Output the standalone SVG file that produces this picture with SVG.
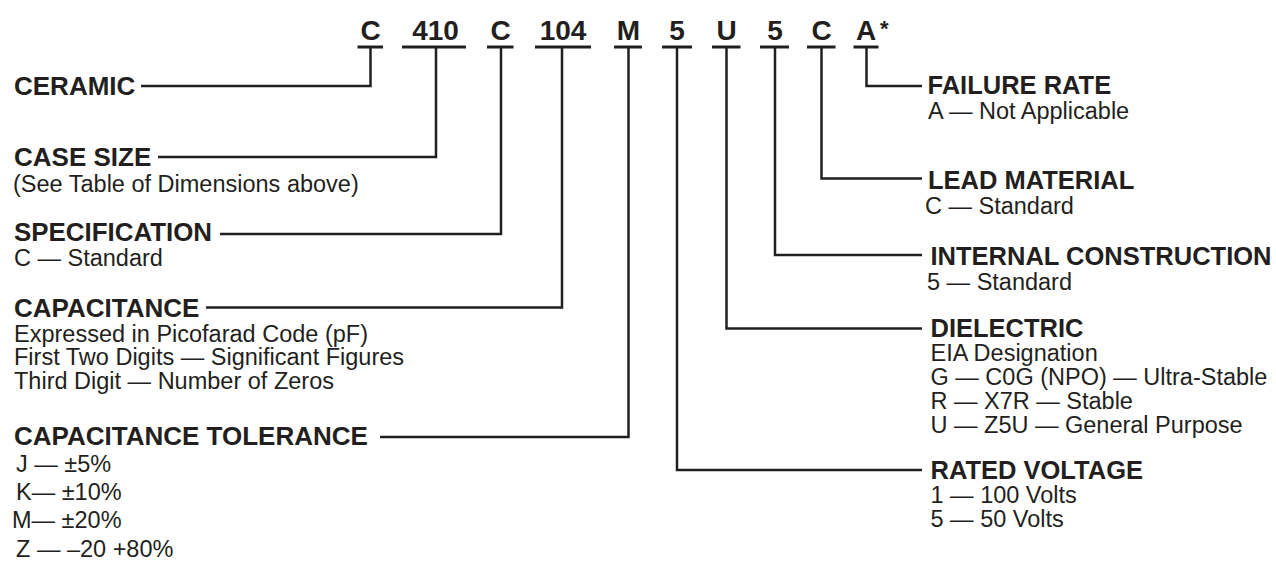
<svg xmlns="http://www.w3.org/2000/svg" width="1276" height="564" viewBox="0 0 1276 564">
<style>
text{font-family:"Liberation Sans",Arial,Helvetica,sans-serif;fill:#231f20}
.code{font-size:28px;font-weight:bold;text-anchor:middle}
.ast{font-size:22px;font-weight:bold}
.h{font-size:26px;font-weight:bold}
.hr{font-size:25.5px;font-weight:bold}
.t{font-size:23.5px}
.ul{stroke:#231f20;stroke-width:3;fill:none}
.cn{stroke:#231f20;stroke-width:2.5;fill:none;stroke-linejoin:miter;stroke-linecap:butt}
</style>
<rect width="1276" height="564" fill="#ffffff"/>
<g id="code">
<text class="code" x="370.5" y="40">C</text>
<text class="code" x="435.5" y="40">410</text>
<text class="code" x="500.5" y="40">C</text>
<text class="code" x="563" y="40">104</text>
<text class="code" x="628.5" y="40">M</text>
<text class="code" x="677" y="40">5</text>
<text class="code" x="726.5" y="40">U</text>
<text class="code" x="775" y="40">5</text>
<text class="code" x="821.5" y="40">C</text>
<text class="code" x="866" y="40">A</text>
<text class="ast" x="880" y="36">*</text>
<path class="ul" d="M357.5,47H383M402,47H466M487,47H513.5M535,47H591M614,47H642M662,47H692M712,47H740.5M760,47H789M807,47H835.5M853.5,47H878.5"/>
</g>
<g id="connectors">
<path class="cn" d="M370.5,47V86H141"/>
<path class="cn" d="M436,47V157H158"/>
<path class="cn" d="M501,47V234H220"/>
<path class="cn" d="M562,47V307.5H206"/>
<path class="cn" d="M628.5,47V437H380"/>
<path class="cn" d="M866.5,47V86H922"/>
<path class="cn" d="M821.5,47V178.5H922"/>
<path class="cn" d="M775,47V255H922"/>
<path class="cn" d="M726.5,47V328.5H922"/>
<path class="cn" d="M677,47V470H922"/>
</g>
<g id="ceramic">
<text class="h" x="14" y="94.5">CERAMIC</text>
</g>
<g id="case-size">
<text class="h" x="14" y="166">CASE SIZE</text>
<text class="t" x="13" y="192">(See Table of Dimensions above)</text>
</g>
<g id="specification">
<text class="h" x="14" y="241" textLength="198" lengthAdjust="spacingAndGlyphs">SPECIFICATION</text>
<text class="t" x="14" y="265.5">C — Standard</text>
</g>
<g id="capacitance">
<text class="h" x="14" y="317">CAPACITANCE</text>
<text class="t" x="14" y="341.5">Expressed in Picofarad Code (pF)</text>
<text class="t" x="14" y="365">First Two Digits — Significant Figures</text>
<text class="t" x="14" y="388.5">Third Digit — Number of Zeros</text>
</g>
<g id="tolerance">
<text class="h" x="14" y="445">CAPACITANCE TOLERANCE</text>
<text class="t" x="16" y="471.5">J — ±5%</text>
<text class="t" x="16" y="500">K— ±10%</text>
<text class="t" x="12" y="528">M— ±20%</text>
<text class="t" x="16" y="556.5">Z — –20 +80%</text>
</g>
<g id="failure-rate">
<text class="hr" x="927.5" y="94">FAILURE RATE</text>
<text class="t" x="928" y="119">A — Not Applicable</text>
</g>
<g id="lead-material">
<text class="hr" x="928" y="188.5">LEAD MATERIAL</text>
<text class="t" x="925" y="214">C — Standard</text>
</g>
<g id="internal-construction">
<text class="hr" x="930.5" y="265" textLength="341" lengthAdjust="spacingAndGlyphs">INTERNAL CONSTRUCTION</text>
<text class="t" x="927" y="290">5 — Standard</text>
</g>
<g id="dielectric">
<text class="hr" x="930.5" y="336.5">DIELECTRIC</text>
<text class="t" x="930.5" y="360.5">EIA Designation</text>
<text class="t" x="930.5" y="385">G — C0G (NPO) — Ultra-Stable</text>
<text class="t" x="930.5" y="408.5">R — X7R — Stable</text>
<text class="t" x="930.5" y="433">U — Z5U — General Purpose</text>
</g>
<g id="rated-voltage">
<text class="hr" x="930.5" y="479">RATED VOLTAGE</text>
<text class="t" x="930.5" y="503">1 — 100 Volts</text>
<text class="t" x="930.5" y="526.5">5 — 50 Volts</text>
</g>
</svg>
